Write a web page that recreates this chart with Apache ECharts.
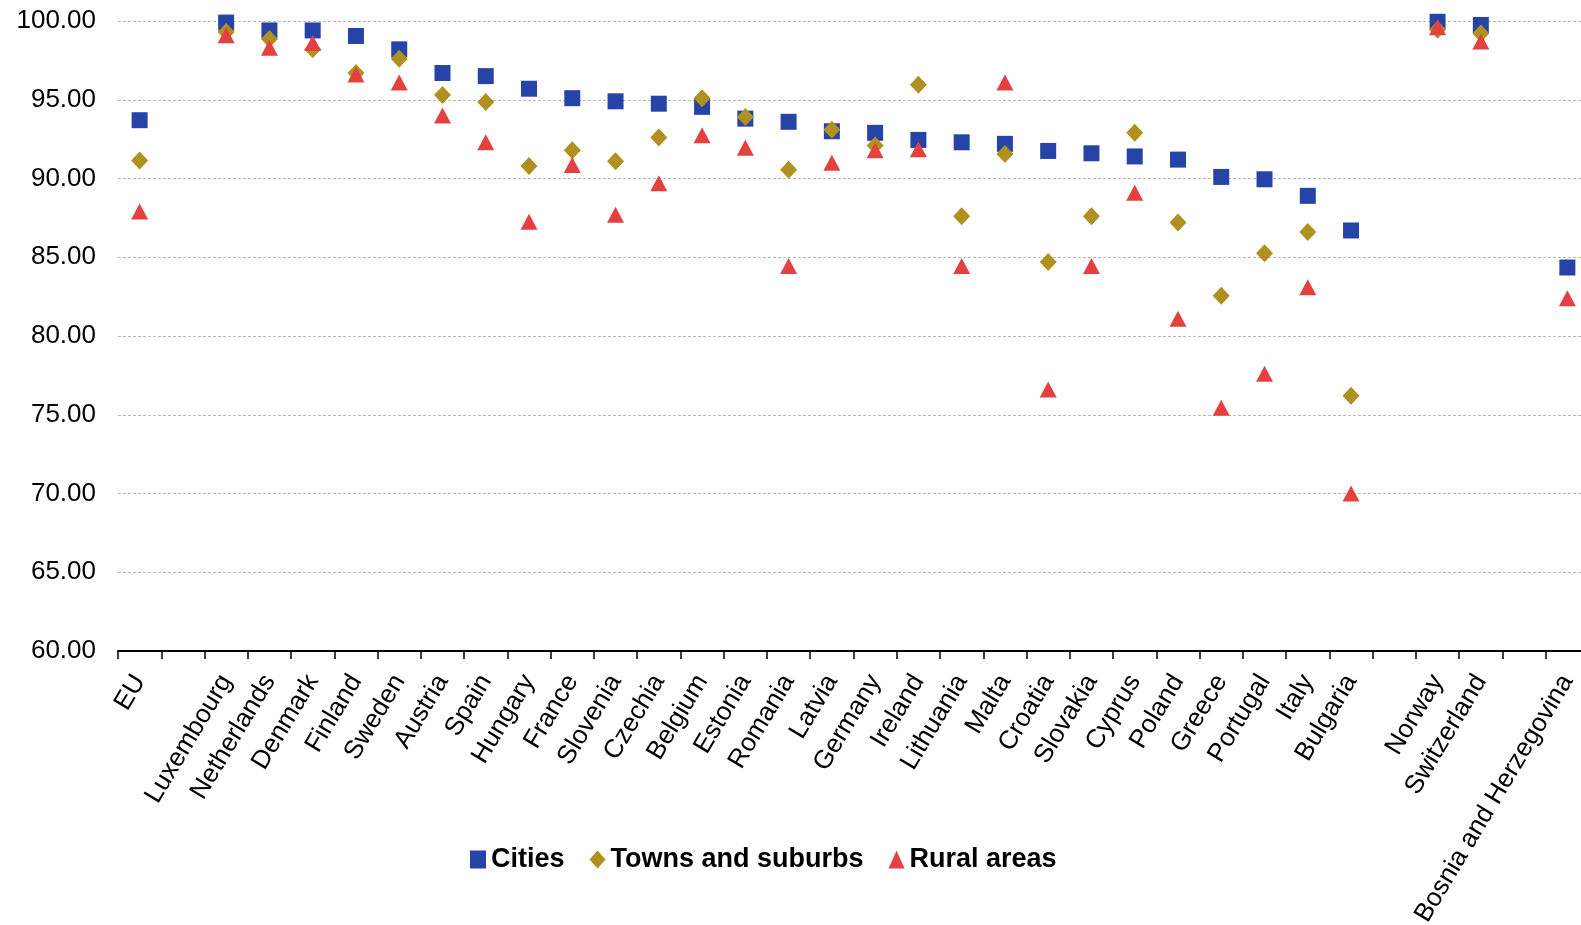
<!DOCTYPE html>
<html>
<head>
<meta charset="utf-8">
<script src="https://cdn.jsdelivr.net/npm/echarts@6/dist/echarts.min.js"></script>
<style>
html,body{margin:0;padding:0;background:#fff;overflow:hidden;}
#chart{width:1581px;height:925px;}
</style>
</head>
<body>
<div id="chart"></div>
<script>
const categories = ['EU','','Luxembourg','Netherlands','Denmark','Finland','Sweden','Austria','Spain','Hungary','France','Slovenia','Czechia','Belgium','Estonia','Romania','Latvia','Germany','Ireland','Lithuania','Malta','Croatia','Slovakia','Cyprus','Poland','Greece','Portugal','Italy','Bulgaria','','Norway','Switzerland','','Bosnia and Herzegovina'];
const cities = [93.7,null,99.9,99.4,99.4,99.05,98.2,96.7,96.5,95.7,95.1,94.9,94.75,94.55,93.8,93.6,93.0,92.9,92.45,92.3,92.2,91.75,91.6,91.4,91.2,90.1,89.95,88.9,86.7,null,99.95,99.75,null,84.35];
const towns = [91.15,null,99.3,98.85,98.2,96.7,97.6,95.3,94.85,90.8,91.8,91.1,92.6,95.1,93.9,90.55,93.1,92.1,95.95,87.6,91.55,84.7,87.6,92.9,87.2,82.55,85.25,86.6,76.2,null,99.45,99.2,null,null];
const rural = [87.9,null,99.1,98.3,98.6,96.6,96.1,94.0,92.3,87.25,90.85,87.7,89.7,92.75,91.95,84.45,91.0,91.8,91.85,84.45,96.1,76.6,84.45,89.1,81.1,75.45,77.6,83.1,70.0,null,99.6,98.7,null,82.4];
const yTicks = {min:60, max:100, interval:5};

const chart = echarts.init(document.getElementById('chart'));
const font = 'Liberation Sans, Arial, sans-serif';
chart.setOption({
  animation:false,
  backgroundColor:'#fff',
  grid:{left:118,right:-8,top:21,bottom:274,containLabel:false,outerBoundsMode:'none'},
  legend:{
    left:465, top:841,
    itemWidth:16, itemHeight:18, itemGap:25,
    textStyle:{fontFamily:font,fontSize:27,fontWeight:'bold',color:'#000'},
    data:[{name:'Cities',icon:'rect'},{name:'Towns and suburbs',icon:'diamond'},{name:'Rural areas',icon:'triangle'}]
  },
  xAxis:{
    type:'category', data:categories, boundaryGap:true,
    axisLine:{lineStyle:{color:'#000',width:2}},
    axisTick:{show:true,interval:0,length:8,lineStyle:{color:'#000',width:1.5}},
    axisLabel:{interval:0,rotate:59,margin:26,fontFamily:font,fontSize:26,color:'#000'},
    splitLine:{show:false}
  },
  yAxis:{
    type:'value', min:yTicks.min, max:yTicks.max, interval:yTicks.interval,
    axisLine:{show:false}, axisTick:{show:false},
    axisLabel:{fontFamily:font,fontSize:26,color:'#000',margin:22,formatter:v=>v.toFixed(2)},
    splitLine:{lineStyle:{color:'#b8b8b8',type:[3,2],width:1}}
  },
  series:[
    {name:'Cities',type:'scatter',symbol:'rect',symbolSize:16,data:cities,itemStyle:{color:'#2644A8',opacity:1}},
    {name:'Towns and suburbs',type:'scatter',symbol:'diamond',symbolSize:[17,18],data:towns,itemStyle:{color:'#B0901E',opacity:1}},
    {name:'Rural areas',type:'scatter',symbol:'triangle',symbolSize:[17,16],data:rural,itemStyle:{color:'#E54040',opacity:1}}
  ]
});
</script>
</body>
</html>
